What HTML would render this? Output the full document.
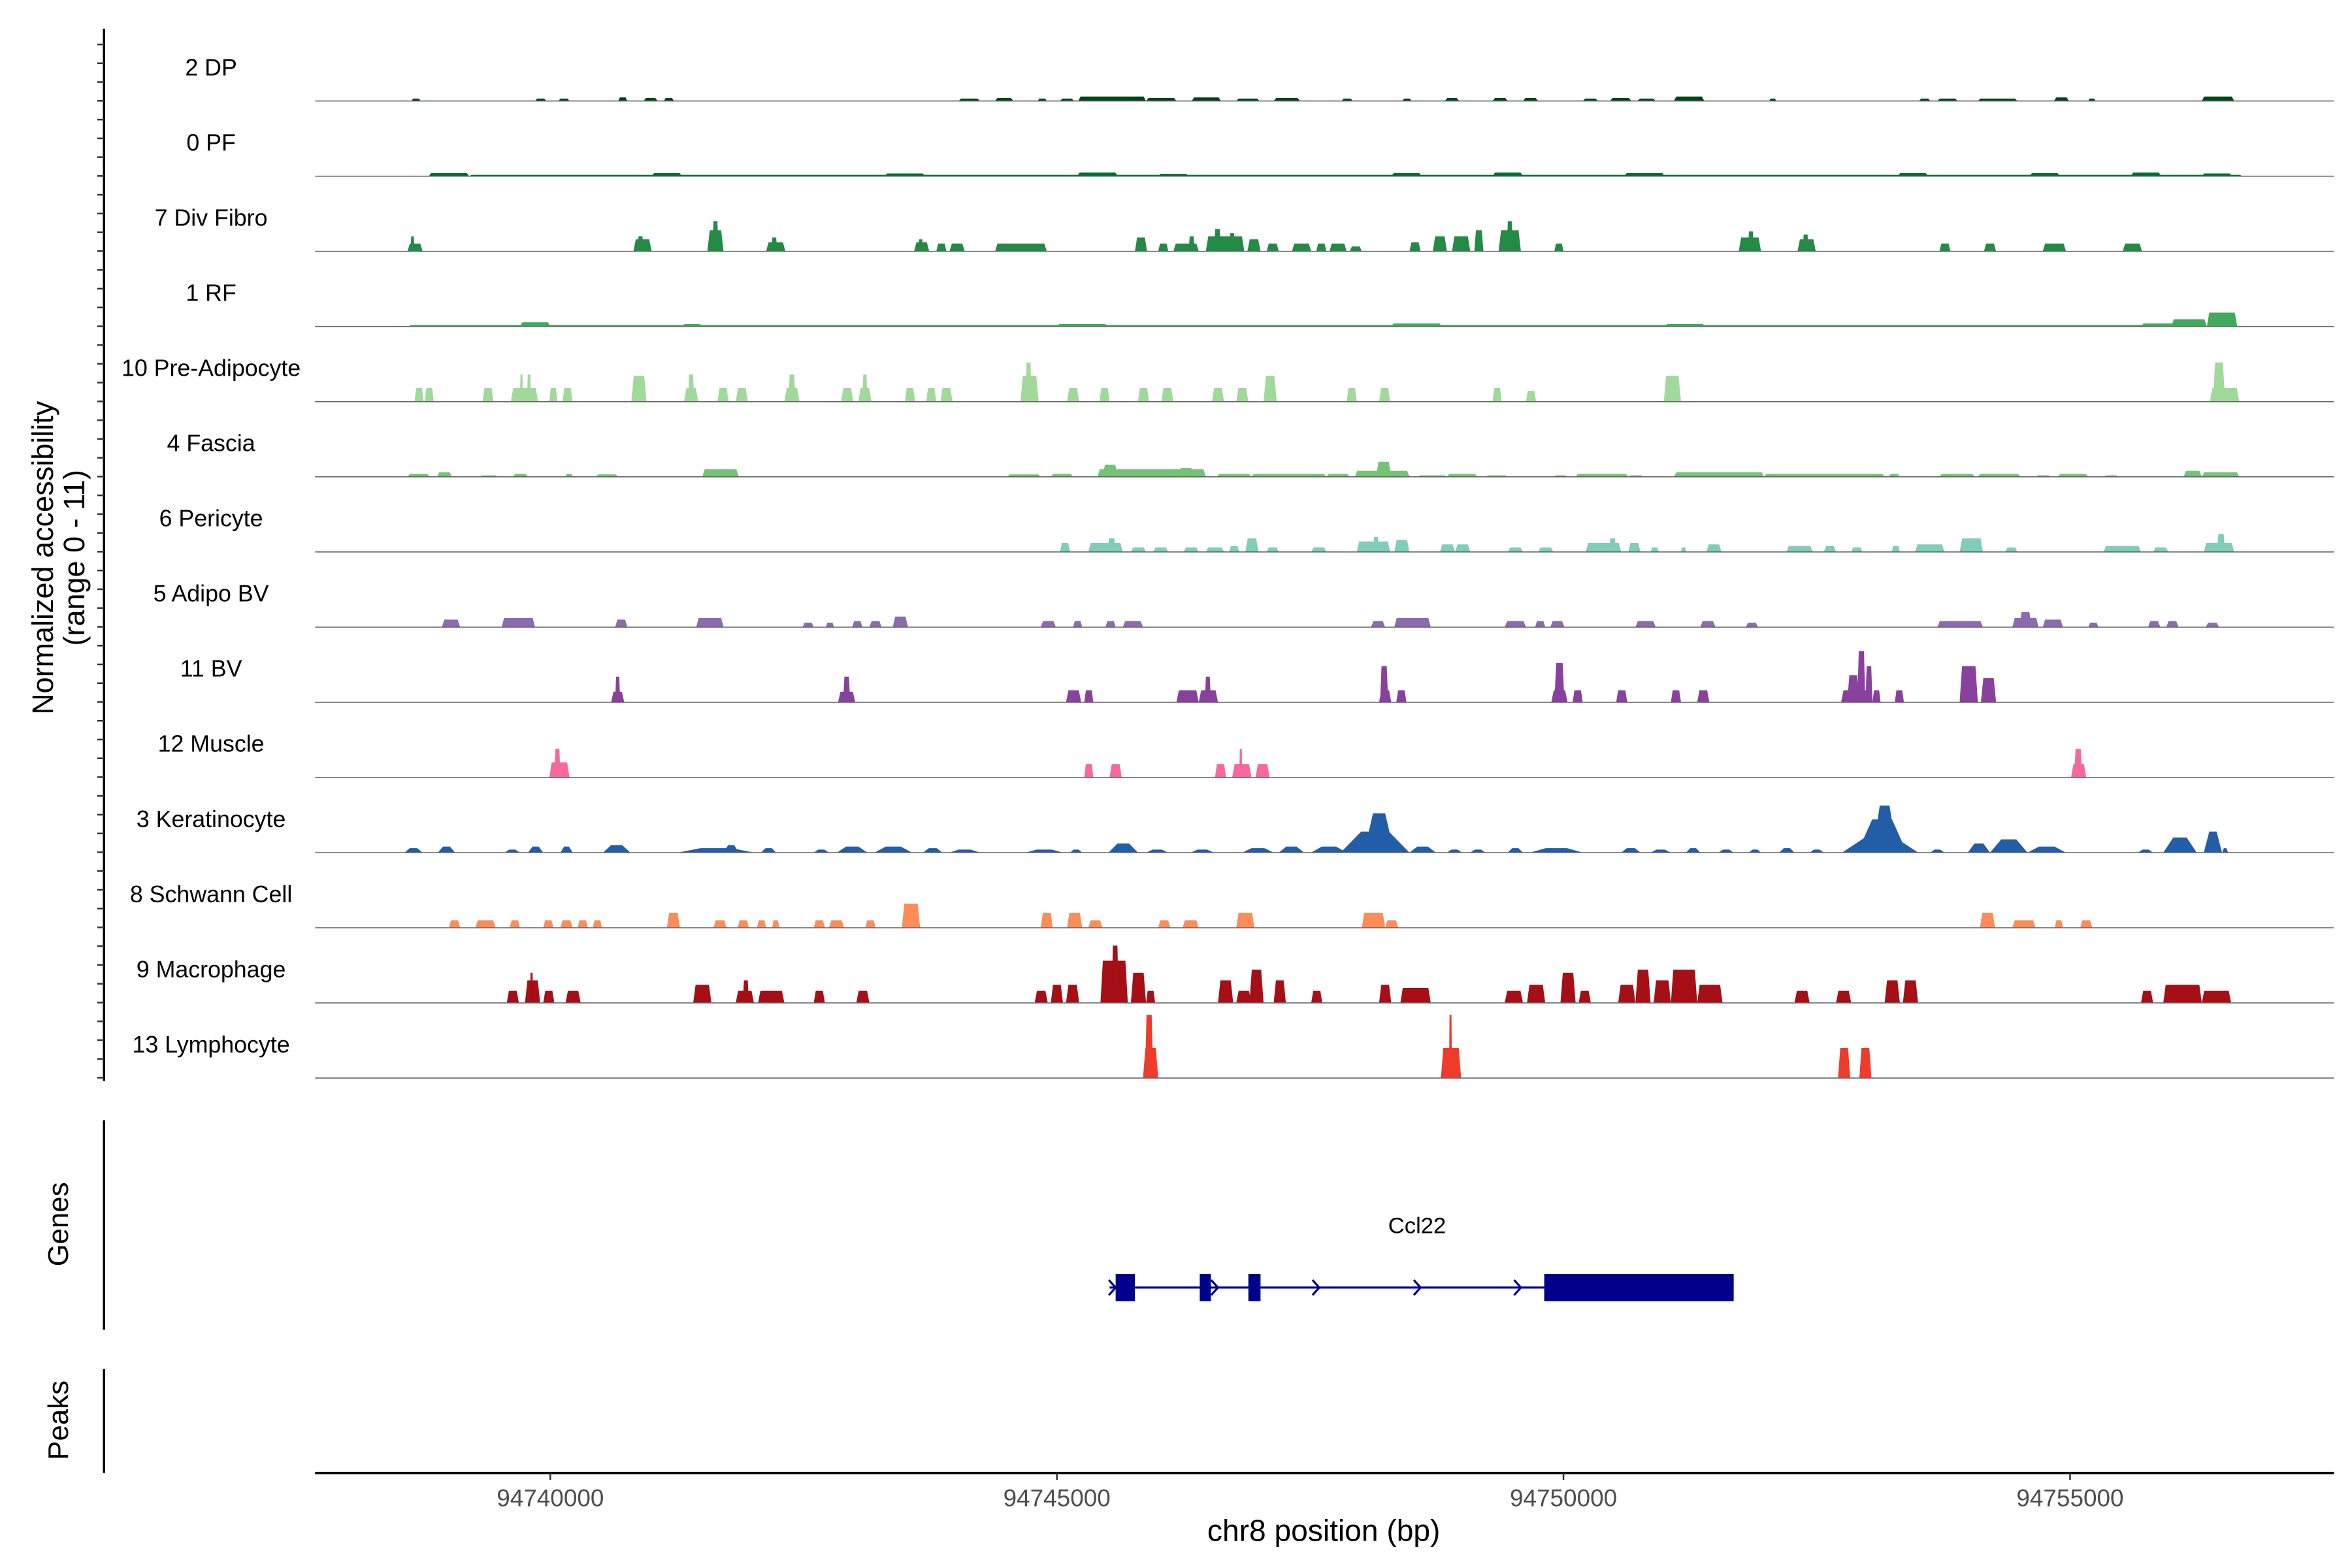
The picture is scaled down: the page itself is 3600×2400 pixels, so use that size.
<!DOCTYPE html>
<html><head><meta charset="utf-8">
<style>
html,body{margin:0;padding:0;background:#fff;}
svg{display:block;}
text{font-family:"Liberation Sans",Arial,sans-serif;}
</style></head>
<body>
<svg id="chart" xmlns="http://www.w3.org/2000/svg" width="3600" height="2400" viewBox="0 0 1560 1040">
<rect x="0" y="0" width="1560" height="1040" fill="#fff"/>
<g id="yaxis"></g>
<g id="tracks"></g>
<g id="genes"></g>
<g id="xaxis"></g>
<text transform="translate(35,370) rotate(-90)" text-anchor="middle" font-size="19.5">Normalized accessibility</text>
<text transform="translate(56,370) rotate(-90)" text-anchor="middle" font-size="19.5">(range 0 - 11)</text>
<text transform="translate(45,812) rotate(-90)" text-anchor="middle" font-size="19">Genes</text>
<text transform="translate(45,942) rotate(-90)" text-anchor="middle" font-size="19">Peaks</text>
<text x="878" y="1022" text-anchor="middle" font-size="20">chr8 position (bp)</text>
</svg>
<script>
// ---- data (positions in kb, heights in normalized accessibility 0-11) ----
const trackNames = ["2 DP","0 PF","7 Div Fibro","1 RF","10 Pre-Adipocyte","4 Fascia","6 Pericyte","5 Adipo BV","11 BV","12 Muscle","3 Keratinocyte","8 Schwann Cell","9 Macrophage","13 Lymphocyte"];
const trackColors = ["#00441b","#006d2c","#238b45","#41ab5d","#a1d99b","#74c476","#7fcdbb","#8c6bb1","#88419d","#f768a1","#225ea8","#fc8d59","#a50f15","#ef3b2c"];
const peaksDP = [[94738.63,94738.72,0.4],[94739.85,94739.96,0.4],[94740.08,94740.19,0.4],[94740.67,94740.76,0.6],[94740.92,94741.06,0.5],[94741.12,94741.22,0.5],[94744.03,94744.24,0.4],[94744.39,94744.57,0.5],[94744.81,94744.90,0.4],[94745.03,94745.17,0.4],[94745.21,94745.88,0.75],[94745.88,94746.18,0.5],[94746.33,94746.62,0.6],[94746.77,94747.00,0.4],[94747.14,94747.40,0.5],[94747.81,94747.92,0.4],[94748.41,94748.50,0.4],[94748.83,94748.97,0.5],[94749.30,94749.45,0.5],[94749.60,94749.75,0.5],[94750.19,94750.34,0.4],[94750.46,94750.67,0.5],[94750.73,94750.91,0.4],[94751.09,94751.39,0.75],[94752.03,94752.10,0.4],[94753.51,94753.62,0.4],[94753.69,94753.89,0.4],[94754.09,94754.48,0.4],[94754.84,94754.99,0.6],[94755.18,94755.25,0.4],[94756.30,94756.62,0.75]];
const peaksPF = [[94738.80,94739.20,0.5],[94739.20,94756.70,0.22],[94741.00,94741.30,0.5],[94743.30,94743.70,0.45],[94745.20,94745.60,0.6],[94746.0,94746.3,0.4],[94748.30,94748.60,0.5],[94749.30,94749.60,0.6],[94750.60,94751.00,0.5],[94753.30,94753.60,0.5],[94754.60,94754.90,0.5],[94755.60,94755.90,0.6],[94756.30,94756.60,0.45]];
const peaksDivFibro = [[94738.59,94738.74,1.3],[94738.62,94738.66,2.5],[94740.82,94741.00,2.0],[94740.86,94740.92,2.5],[94741.55,94741.71,3.5],[94741.60,94741.66,5.0],[94742.13,94742.32,1.5],[94742.18,94742.24,2.3],[94743.59,94743.74,1.5],[94743.63,94743.68,2.0],[94743.81,94743.91,1.3],[94743.94,94744.09,1.3],[94744.39,94744.90,1.3],[94745.77,94745.89,2.3],[94746.00,94746.10,1.3],[94746.15,94746.40,1.3],[94746.30,94746.36,2.5],[94746.47,94746.85,2.5],[94746.55,94746.62,3.7],[94746.70,94746.76,3.0],[94746.88,94747.01,2.0],[94747.07,94747.19,1.3],[94747.32,94747.51,1.3],[94747.56,94747.66,1.3],[94747.69,94747.86,1.3],[94747.89,94748.01,0.8],[94748.48,94748.59,1.5],[94748.71,94748.85,2.5],[94748.90,94749.08,2.5],[94749.12,94749.21,3.5],[94749.36,94749.58,3.5],[94749.44,94749.50,5.0],[94749.91,94750.00,1.3],[94751.73,94751.95,2.3],[94751.82,94751.88,3.3],[94752.31,94752.49,2.0],[94752.36,94752.42,2.8],[94753.71,94753.82,1.3],[94754.15,94754.27,1.3],[94754.73,94754.96,1.3],[94755.52,94755.71,1.3]];
const peaksRF = [[94738.60,94756.00,0.25],[94739.70,94740.00,0.7],[94741.30,94741.50,0.4],[94745.00,94745.50,0.4],[94748.30,94748.80,0.5],[94751.00,94751.40,0.4],[94755.70,94756.10,0.5],[94756.00,94756.35,1.2],[94756.35,94756.65,2.3]];
const peaksPreAdipo = [[94738.66,94738.75,2.25],[94738.76,94738.85,2.25],[94739.33,94739.44,2.25],[94739.61,94739.88,2.25],[94739.70,94739.73,4.5],[94739.77,94739.81,4.5],[94739.99,94740.07,2.25],[94740.12,94740.22,2.25],[94740.80,94740.95,4.3],[94741.32,94741.46,2.25],[94741.36,94741.42,4.5],[94741.65,94741.76,2.25],[94741.83,94741.95,2.25],[94742.31,94742.46,2.25],[94742.35,94742.42,4.5],[94742.87,94742.99,2.25],[94743.04,94743.17,2.25],[94743.08,94743.13,4.5],[94743.50,94743.60,2.25],[94743.71,94743.81,2.25],[94743.85,94743.97,2.25],[94744.64,94744.82,4.3],[94744.69,94744.75,6.5],[94745.10,94745.22,2.25],[94745.42,94745.52,2.25],[94745.80,94745.91,2.25],[94746.03,94746.15,2.25],[94746.53,94746.65,2.25],[94746.77,94746.89,2.25],[94747.04,94747.17,4.3],[94747.86,94747.96,2.25],[94748.18,94748.29,2.25],[94749.30,94749.39,2.25],[94749.63,94749.73,1.8],[94750.99,94751.16,4.3],[94756.38,94756.67,2.25],[94756.41,94756.53,6.5]];
const peaksFascia = [[94738.59,94738.81,0.5],[94738.88,94739.03,0.75],[94739.30,94739.48,0.25],[94739.63,94739.78,0.5],[94740.15,94740.22,0.5],[94740.45,94740.67,0.4],[94741.50,94741.86,1.25],[94744.51,94744.84,0.4],[94744.94,94745.16,0.5],[94745.40,94746.47,1.25],[94745.45,94745.60,2.0],[94746.20,94746.35,1.5],[94746.58,94746.92,0.5],[94746.92,94747.66,0.5],[94747.66,94747.89,0.5],[94747.94,94748.48,1.0],[94748.15,94748.30,2.5],[94748.56,94748.85,0.25],[94748.85,94749.15,0.5],[94749.23,94749.45,0.25],[94749.90,94750.04,0.25],[94750.12,94750.64,0.5],[94750.64,94750.79,0.25],[94751.09,94751.98,0.75],[94751.98,94753.17,0.5],[94753.21,94753.32,0.5],[94753.71,94754.06,0.5],[94754.09,94754.51,0.5],[94754.66,94754.81,0.25],[94754.88,94755.18,0.5],[94755.33,94755.48,0.25],[94756.12,94756.30,1.0],[94756.30,94756.67,0.75]];
const peaksPericyte = [[94745.03,94745.13,1.5],[94745.31,94745.65,1.5],[94745.50,94745.58,2.25],[94745.73,94745.88,0.75],[94745.95,94746.10,0.75],[94746.25,94746.40,0.75],[94746.47,94746.65,0.75],[94746.70,94746.80,1.0],[94746.86,94746.99,2.25],[94747.07,94747.19,0.75],[94747.51,94747.66,0.75],[94747.96,94748.29,1.75],[94748.12,94748.18,2.5],[94748.33,94748.48,2.0],[94748.78,94748.93,1.25],[94748.93,94749.08,1.25],[94749.45,94749.60,0.75],[94749.75,94749.90,0.75],[94750.22,94750.57,1.5],[94750.45,94750.52,2.25],[94750.64,94750.76,1.5],[94750.86,94750.94,0.75],[94751.16,94751.21,0.75],[94751.41,94751.56,1.25],[94752.20,94752.46,1.0],[94752.57,94752.69,1.0],[94752.84,94752.95,0.75],[94753.24,94753.32,1.0],[94753.47,94753.76,1.25],[94753.91,94754.14,2.25],[94754.36,94754.48,0.75],[94755.33,94755.70,1.0],[94755.82,94755.97,0.75],[94756.32,94756.62,1.5],[94756.45,94756.53,3.0]];
const peaksAdipoBV = [[94738.93,94739.11,1.25],[94739.52,94739.85,1.5],[94740.64,94740.76,1.25],[94741.44,94741.71,1.5],[94742.49,94742.60,0.75],[94742.72,94742.80,0.75],[94742.98,94743.08,1.0],[94743.15,94743.27,1.0],[94743.38,94743.53,1.75],[94744.84,94744.99,1.0],[94745.16,94745.25,1.0],[94745.48,94745.58,1.0],[94745.65,94745.85,1.0],[94748.10,94748.24,1.0],[94748.33,94748.69,1.5],[94749.42,94749.63,1.0],[94749.72,94749.82,1.0],[94749.87,94750.01,1.0],[94750.71,94750.91,1.0],[94751.35,94751.50,1.0],[94751.80,94751.92,0.75],[94753.69,94754.14,1.0],[94754.43,94754.69,1.5],[94754.50,94754.62,2.5],[94754.73,94754.93,1.25],[94755.18,94755.28,0.75],[94755.77,94755.89,1.0],[94755.95,94756.07,1.0],[94756.34,94756.47,0.75]];
const peaksBV = [[94740.60,94740.73,1.75],[94740.64,94740.69,4.25],[94742.84,94743.01,1.75],[94742.89,94742.96,4.25],[94745.09,94745.24,2.0],[94745.27,94745.36,2.0],[94746.18,94746.40,2.0],[94746.40,94746.59,2.0],[94746.46,94746.52,4.25],[94748.18,94748.30,2.0],[94748.19,94748.27,6.0],[94748.35,94748.45,2.0],[94749.88,94750.04,2.0],[94749.91,94750.01,6.5],[94750.09,94750.19,2.0],[94750.52,94750.63,2.0],[94751.06,94751.16,2.0],[94751.32,94751.44,2.0],[94752.74,94753.05,2.0],[94752.80,94752.92,4.5],[94752.90,94752.98,8.5],[94752.98,94753.05,6.0],[94753.05,94753.13,2.0],[94753.27,94753.36,2.0],[94753.91,94754.09,6.0],[94754.12,94754.27,4.0]];
const peaksMuscle = [[94739.99,94740.19,2.5],[94740.04,94740.10,4.75],[94745.27,94745.36,2.25],[94745.52,94745.64,2.25],[94746.56,94746.67,2.25],[94746.73,94746.92,2.25],[94746.80,94746.83,4.75],[94746.96,94747.10,2.25],[94755.01,94755.16,2.25],[94755.04,94755.12,4.75]];
const peaksKerat = [[94738.56,94738.74,0.75],[94738.89,94739.06,1.0],[94739.55,94739.70,0.5],[94739.78,94739.93,1.0],[94740.10,94740.22,1.0],[94740.52,94740.79,1.25],[94741.26,94742.01,0.75],[94741.71,94741.86,1.25],[94742.08,94742.23,0.75],[94742.60,94742.75,0.5],[94742.83,94743.13,1.0],[94743.20,94743.57,1.0],[94743.68,94743.87,0.75],[94743.94,94744.24,0.5],[94744.69,94745.06,0.5],[94745.13,94745.25,0.5],[94745.51,94745.80,1.5],[94745.88,94746.10,0.5],[94746.32,94746.55,0.5],[94746.83,94747.14,0.75],[94747.19,94747.44,1.0],[94747.51,94747.86,1.0],[94747.80,94748.48,3.5],[94748.03,94748.33,6.5],[94748.48,94748.74,1.0],[94748.85,94749.00,0.5],[94749.08,94749.23,0.5],[94749.45,94749.60,0.75],[94749.67,94750.19,0.75],[94750.57,94750.76,0.75],[94750.86,94751.06,0.5],[94751.21,94751.35,0.75],[94751.53,94751.68,0.5],[94751.83,94751.95,0.5],[94752.13,94752.28,0.75],[94752.43,94752.57,0.5],[94752.75,94753.50,2.5],[94752.90,94753.39,5.5],[94753.05,94753.29,7.8],[94753.62,94753.76,0.5],[94753.99,94754.21,1.5],[94754.21,94754.58,2.2],[94754.58,94754.96,1.0],[94755.67,94755.82,0.5],[94755.92,94756.25,2.5],[94756.32,94756.50,3.5],[94756.50,94756.56,0.75]];
const peaksSchwann = [[94739.00,94739.11,1.25],[94739.26,94739.46,1.25],[94739.60,94739.70,1.25],[94739.93,94740.03,1.25],[94740.10,94740.22,1.25],[94740.27,94740.37,1.25],[94740.42,94740.51,1.25],[94741.15,94741.28,2.5],[94741.61,94741.74,1.25],[94741.85,94741.96,1.25],[94742.04,94742.13,1.25],[94742.19,94742.26,1.25],[94742.60,94742.71,1.25],[94742.75,94742.90,1.25],[94743.11,94743.21,1.25],[94743.47,94743.65,4.0],[94744.84,94744.96,2.5],[94745.10,94745.25,2.5],[94745.31,94745.45,1.25],[94746.00,94746.12,1.25],[94746.24,94746.40,1.25],[94746.77,94746.95,2.5],[94748.01,94748.24,2.5],[94748.24,94748.37,1.25],[94754.11,94754.26,2.5],[94754.43,94754.66,1.25],[94754.85,94754.93,1.25],[94755.10,94755.22,1.25]];
const peaksMacro = [[94739.57,94739.69,2.0],[94739.75,94739.90,3.75],[94739.80,94739.83,5.0],[94739.93,94740.04,2.0],[94740.15,94740.30,2.0],[94741.41,94741.59,3.0],[94741.83,94742.01,2.0],[94741.90,94741.96,3.75],[94742.05,94742.31,2.0],[94742.60,94742.71,2.0],[94743.02,94743.15,2.0],[94744.78,94744.91,2.0],[94744.94,94745.06,3.0],[94745.09,94745.22,3.0],[94745.43,94745.70,7.0],[94745.54,94745.61,9.5],[94745.73,94745.88,5.0],[94745.88,94745.97,2.0],[94746.59,94746.74,3.75],[94746.77,94746.92,2.0],[94746.90,94747.04,5.5],[94747.14,94747.26,3.75],[94747.51,94747.62,2.0],[94748.18,94748.30,3.0],[94748.39,94748.69,2.5],[94749.42,94749.60,2.0],[94749.64,94749.82,3.0],[94749.97,94750.12,5.0],[94750.15,94750.27,2.0],[94750.54,94750.71,3.0],[94750.71,94750.86,5.5],[94750.89,94751.06,3.75],[94751.06,94751.32,5.5],[94751.32,94751.57,3.0],[94752.28,94752.43,2.0],[94752.69,94752.84,2.0],[94753.17,94753.32,3.75],[94753.35,94753.50,3.75],[94755.70,94755.82,2.0],[94755.92,94756.30,3.0],[94756.30,94756.59,2.0]];
const peaksLympho = [[94745.85,94746.00,5.0],[94745.87,94745.95,10.5],[94748.79,94748.99,5.0],[94748.87,94748.90,10.5],[94752.71,94752.83,5.0],[94752.92,94753.04,5.0]];
const trackPeaks = [peaksDP,peaksPF,peaksDivFibro,peaksRF,peaksPreAdipo,peaksFascia,peaksPericyte,peaksAdipoBV,peaksBV,peaksMuscle,peaksKerat,peaksSchwann,peaksMacro,peaksLympho];
const xTicks = [94740000,94745000,94750000,94755000];
const geneName = "Ccl22";
const geneSpan = [94745.52,94751.68];
const geneExons = [[94745.58,94745.77],[94746.41,94746.52],[94746.89,94747.01],[94749.81,94751.68]];
const geneArrows = [94745.55,94746.56,94747.56,94748.56,94749.55];

// ---- scales ----
const NS = "http://www.w3.org/2000/svg";
const X0 = 209, X1 = 1548;
function xs(kb){ return 365 + (kb - 94740) * 67.2; }
function baseY(i){ return 67 + i * 49.85; }
function hs(v){ return v * 4; }
function mk(tag, attrs, parent){ const e = document.createElementNS(NS, tag); for (const k in attrs) e.setAttribute(k, attrs[k]); parent.appendChild(e); return e; }

// y axis
const ya = document.getElementById('yaxis');
let l = mk('line',{x1:69,y1:19,x2:69,y2:717,stroke:'#000','stroke-width':1.5},ya);
 
for (let k = 0; k <= 55; k++) {
  const y = 29.5 + k * 12.46;
  const t = mk('line',{x1:64.5,y1:y,x2:69,y2:y,stroke:'#333','stroke-width':1.1},ya);
  
  
}
l = mk('line',{x1:69,y1:743,x2:69,y2:882,stroke:'#000','stroke-width':1.5},ya);
 
l = mk('line',{x1:69,y1:908,x2:69,y2:977,stroke:'#000','stroke-width':1.5},ya);
 

// tracks
const tg = document.getElementById('tracks');
trackNames.forEach((name, i) => {
  const g = mk('g',{},tg);
  
  
  const by = baseY(i);
  const lab = mk('text',{x:140,y:by-17,'text-anchor':'middle','font-size':15.5,fill:'#000'},g);
  lab.textContent = name;
  
  
  const smooth = (name === "3 Keratinocyte");
  trackPeaks[i].forEach(p => {
    const a = xs(p[0]), b = xs(p[1]), h = hs(p[2]);
    const s = smooth ? (b - a) * 0.3 : Math.min((b - a) * 0.18, 1.6);
    const poly = mk('polygon',{points:`${a},${by} ${a+s},${by-h} ${b-s},${by-h} ${b},${by}`,fill:trackColors[i]},g);
    
    
  });
  const bl = mk('line',{x1:X0,y1:by,x2:X1,y2:by,stroke:'#666','stroke-width':0.7},g);
  
  
});

// gene
const gg = document.getElementById('genes');
const gy = 854;
let gl = mk('line',{x1:xs(geneSpan[0]),y1:gy,x2:xs(geneSpan[1]),y2:gy,stroke:'#00008b','stroke-width':1.4},gg);
 
geneExons.forEach(e => {
  const r = mk('rect',{x:xs(e[0]),y:gy-9,width:xs(e[1])-xs(e[0]),height:18,fill:'#00008b'},gg);
  
  
});
geneArrows.forEach(a => {
  const x = xs(a);
  const pth = mk('polyline',{points:`${x-2.5},${gy-5} ${x+2},${gy} ${x-2.5},${gy+5}`,fill:'none',stroke:'#00008b','stroke-width':1.4},gg);
  
  
});
const gt = mk('text',{x:xs((geneSpan[0]+geneSpan[1])/2)-3,y:818,'text-anchor':'middle','font-size':15,fill:'#000'},gg);
gt.textContent = geneName;



// x axis
const xa = document.getElementById('xaxis');
l = mk('line',{x1:X0,y1:977,x2:X1,y2:977,stroke:'#000','stroke-width':1.5},xa);
 
xTicks.forEach(v => {
  const x = xs(v / 1000);
  const t = mk('line',{x1:x,y1:977,x2:x,y2:981.5,stroke:'#333','stroke-width':1.1},xa);
  
  
  const tx = mk('text',{x:x,y:999,'text-anchor':'middle','font-size':16,fill:'#4d4d4d'},xa);
  tx.textContent = String(v);
  
  
});
</script>
</body></html>
